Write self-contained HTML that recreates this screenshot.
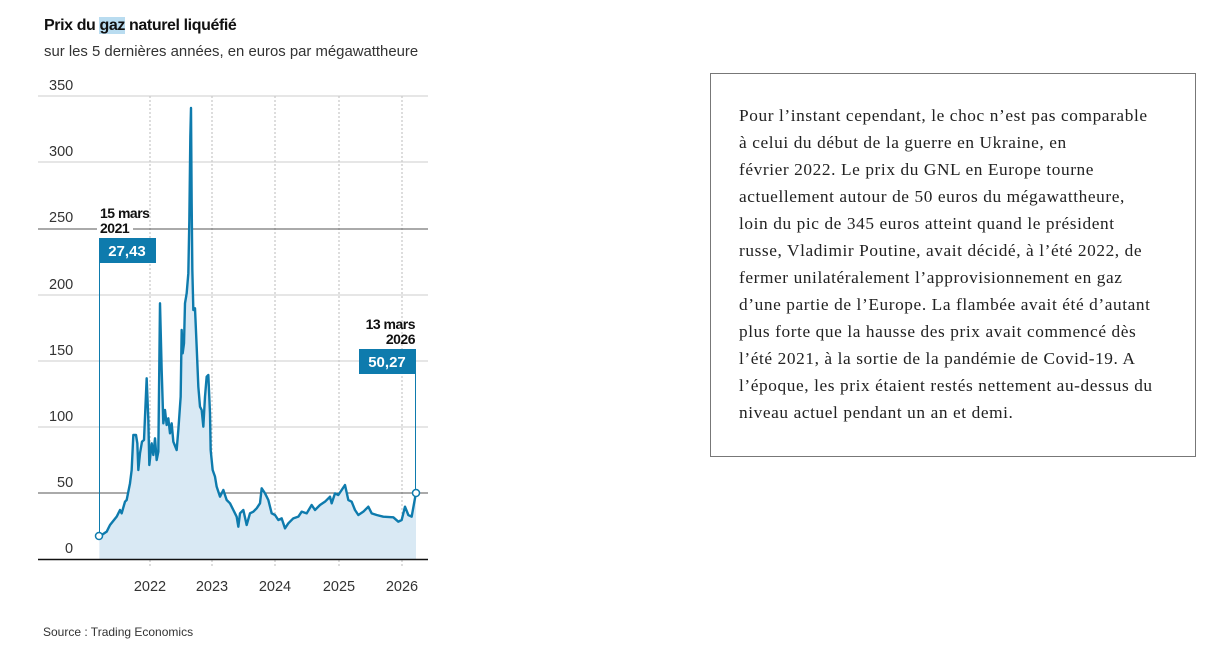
<!DOCTYPE html>
<html><head><meta charset="utf-8"><style>
body{margin:0;width:1221px;height:651px;background:#fff;position:relative;overflow:hidden;font-family:"Liberation Sans",sans-serif}
.t{position:absolute;white-space:nowrap}
.box{position:absolute;left:710px;top:73px;width:486px;height:384px;border:1px solid #777;box-sizing:border-box}
.txt{position:absolute;left:739px;top:102px;font-family:"Liberation Serif",serif;font-size:17.3px;letter-spacing:0.6px;line-height:27px;color:#222;white-space:nowrap}
</style></head><body>
<div class="t" style="left:44px;top:17px;font-size:16px;font-weight:bold;letter-spacing:-0.4px;color:#111">Prix du <span style="background:#b9dcf0">gaz</span> naturel liquéfié</div>
<div class="t" style="left:44px;top:44px;font-size:14.9px;color:#333">sur les 5 dernières années, en euros par mégawattheure</div>
<svg width="1221" height="651" style="position:absolute;left:0;top:0" font-family="Liberation Sans, sans-serif">
<g stroke="#bbb" stroke-dasharray="2,2" stroke-width="1">
<line x1="150" y1="96" x2="150" y2="568"/><line x1="212" y1="96" x2="212" y2="568"/><line x1="275" y1="96" x2="275" y2="568"/><line x1="339" y1="96" x2="339" y2="568"/><line x1="402" y1="96" x2="402" y2="568"/>
</g>
<g stroke="#ccc" stroke-width="1">
<line x1="38" y1="96" x2="428" y2="96"/><line x1="38" y1="162" x2="428" y2="162"/><line x1="38" y1="295" x2="428" y2="295"/><line x1="38" y1="361" x2="428" y2="361"/><line x1="38" y1="427" x2="428" y2="427"/>
</g>
<g stroke="#555" stroke-width="1"><line x1="38" y1="229" x2="428" y2="229"/><line x1="38" y1="493" x2="428" y2="493"/></g>
<g font-size="14.5" fill="#333">
<text x="49" y="90">350</text><text x="49" y="156">300</text><text x="49" y="222">250</text><text x="49" y="289">200</text><text x="49" y="355">150</text><text x="49" y="421">100</text><text x="57" y="487">50</text><text x="65" y="553">0</text>
</g>
<g font-size="14.5" fill="#333" text-anchor="middle">
<text x="150" y="591">2022</text><text x="212" y="591">2023</text><text x="275" y="591">2024</text><text x="339" y="591">2025</text><text x="402" y="591">2026</text>
</g>
<g transform="translate(30,270) scale(0.33333)">
<path d="M208,800 L230,785 240,765 260,740 270,720 275,730 285,695 290,690 300,640 305,600 310,495 318,495 322,520 325,600 330,550 336,515 342,510 350,325 355,450 358,585 365,520 370,555 375,505 380,570 385,545 390,100 395,300 400,460 405,420 410,465 415,445 420,490 425,460 430,515 440,540 445,480 452,380 455,180 458,250 462,220 465,100 470,70 475,10 478,-150 481,-400 483,-486 485,-200 487,0 490,120 495,115 500,230 505,350 510,410 515,420 520,470 525,380 530,320 535,315 540,430 542,540 548,600 555,620 560,650 570,680 580,660 590,690 600,700 610,720 620,740 625,770 630,730 640,720 650,765 660,730 670,725 680,715 690,700 695,655 705,670 715,690 725,730 735,735 745,750 755,745 765,775 775,760 790,745 805,740 815,725 830,730 845,705 855,720 870,705 885,695 900,680 905,700 915,670 925,675 935,660 945,645 955,690 965,695 975,720 985,735 1000,725 1015,710 1025,730 1040,735 1060,740 1090,742 1105,755 1115,750 1125,710 1135,735 1145,740 1158,668 L1158,867 L208,867 Z" fill="#d9e9f4"/>
<path d="M208,800 L230,785 240,765 260,740 270,720 275,730 285,695 290,690 300,640 305,600 310,495 318,495 322,520 325,600 330,550 336,515 342,510 350,325 355,450 358,585 365,520 370,555 375,505 380,570 385,545 390,100 395,300 400,460 405,420 410,465 415,445 420,490 425,460 430,515 440,540 445,480 452,380 455,180 458,250 462,220 465,100 470,70 475,10 478,-150 481,-400 483,-486 485,-200 487,0 490,120 495,115 500,230 505,350 510,410 515,420 520,470 525,380 530,320 535,315 540,430 542,540 548,600 555,620 560,650 570,680 580,660 590,690 600,700 610,720 620,740 625,770 630,730 640,720 650,765 660,730 670,725 680,715 690,700 695,655 705,670 715,690 725,730 735,735 745,750 755,745 765,775 775,760 790,745 805,740 815,725 830,730 845,705 855,720 870,705 885,695 900,680 905,700 915,670 925,675 935,660 945,645 955,690 965,695 975,720 985,735 1000,725 1015,710 1025,730 1040,735 1060,740 1090,742 1105,755 1115,750 1125,710 1135,735 1145,740 1158,668" fill="none" stroke="#0e7bad" stroke-width="2.4" vector-effect="non-scaling-stroke" stroke-linejoin="round"/>
</g>
<line x1="38" y1="559.5" x2="428" y2="559.5" stroke="#111" stroke-width="1.5"/>
<line x1="99.5" y1="262" x2="99.5" y2="533" stroke="#0e7bad" stroke-width="1"/>
<line x1="415.5" y1="373" x2="415.5" y2="489" stroke="#0e7bad" stroke-width="1"/>
<circle cx="99" cy="536" r="3.5" fill="#fff" stroke="#0e7bad" stroke-width="1.5"/>
<circle cx="416" cy="493" r="3.5" fill="#fff" stroke="#0e7bad" stroke-width="1.5"/>
<rect x="99" y="238" width="57" height="25" fill="#0e7bad"/>
<text x="127" y="256" font-size="15" font-weight="bold" fill="#fff" text-anchor="middle">27,43</text>
<rect x="359" y="349" width="57" height="25" fill="#0e7bad"/>
<text x="387" y="367" font-size="15" font-weight="bold" fill="#fff" text-anchor="middle">50,27</text>
<g font-size="14" font-weight="bold" fill="#111" letter-spacing="-0.5">
<rect x="97" y="220" width="36" height="14" fill="#fff"/>
<text x="100" y="218">15 mars</text><text x="100" y="233">2021</text>
<text x="415" y="329" text-anchor="end">13 mars</text><text x="415" y="344" text-anchor="end">2026</text>
</g>
<text x="43" y="636" font-size="12" fill="#333">Source : Trading Economics</text>
</svg>
<div class="box"></div>
<div class="txt">Pour l’instant cependant, le choc n’est pas comparable<br>à celui du début de la guerre en Ukraine, en<br>février 2022. Le prix du GNL en Europe tourne<br>actuellement autour de 50 euros du mégawattheure,<br>loin du pic de 345 euros atteint quand le président<br>russe, Vladimir Poutine, avait décidé, à l’été 2022, de<br>fermer unilatéralement l’approvisionnement en gaz<br>d’une partie de l’Europe. La flambée avait été d’autant<br>plus forte que la hausse des prix avait commencé dès<br>l’été 2021, à la sortie de la pandémie de Covid-19. A<br>l’époque, les prix étaient restés nettement au-dessus du<br>niveau actuel pendant un an et demi.</div>
</body></html>
